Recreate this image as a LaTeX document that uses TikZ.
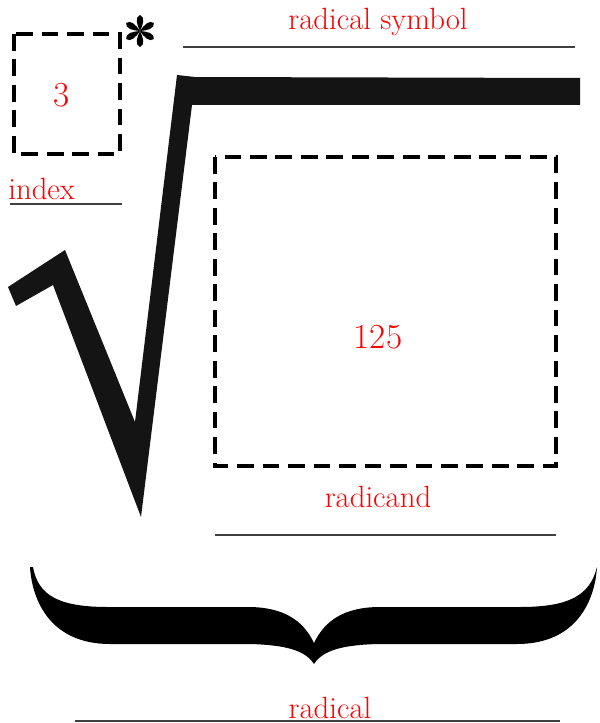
\documentclass[tikz,border=0pt]{standalone}
\usepackage{fontspec}
\begin{document}
\begin{tikzpicture}[x=0.02cm,y=-0.02cm,
  lbl/.style={text=red,font=\fontsize{17.5}{19}\selectfont,inner sep=0pt},
  num/.style={text=red,font=\fontsize{20}{22}\selectfont,inner sep=0pt},
  rule/.style={line width=0.85pt,black!75},
  dbox/.style={line width=2.8pt,dash pattern=on 9.5pt off 5pt}]
\useasboundingbox (0,0) rectangle (599,723);%taille image

% signe racine
\fill [black!92] (8,287) -- (65,250) -- (135,422) -- (177,75) -- (195,77)
  -- (580,78) -- (580,105) -- (192,105) -- (141,517) -- (53,285) -- (16,306) -- cycle;

% cases pointillees
\draw [dbox] (14,34) rectangle (120,154);
\draw [dbox] (215,157) rectangle (556,466);
\node [num] (idx) at (62,95) {3};
\node [num] (rad) at (378,337) {125};

% asterisque
\coordinate (star) at (140,31);
\foreach \a in {0,60,...,300}
  \fill [rotate around={\a:(star)}] (star) .. controls (137,25) and (134.5,17) .. (140,15)
    .. controls (145.5,17) and (143,25) .. (star);

% etiquettes
\node [lbl] (sym) at (378,22) {radical symbol};
\draw [rule] (183,47) -- (575,47);
\node [lbl,anchor=west] (ind) at (8,189) {index};
\draw [rule] (10,204) -- (122,204);
\node [lbl] (cand) at (378,497) {radicand};
\draw [rule] (215,535) -- (556,535);

% accolade
\fill (30,567) .. controls (32,600) and (50,644) .. (110,644) -- (250,644)
  .. controls (285,645) and (305,650) .. (314,664)
  .. controls (323,650) and (343,645) .. (378,644) -- (517,644)
  .. controls (577,644) and (595,600) .. (597,567)
  .. controls (590,595) and (570,607) .. (520,607) -- (380,607)
  .. controls (345,607) and (325,620) .. (314,643)
  .. controls (303,620) and (283,607) .. (248,607) -- (108,607)
  .. controls (58,607) and (38,595) .. (33,567) -- cycle;
\node [lbl] (all) at (330,708) {radical};
\draw [rule] (75,721) -- (560,721);
\end{tikzpicture}
\end{document}
